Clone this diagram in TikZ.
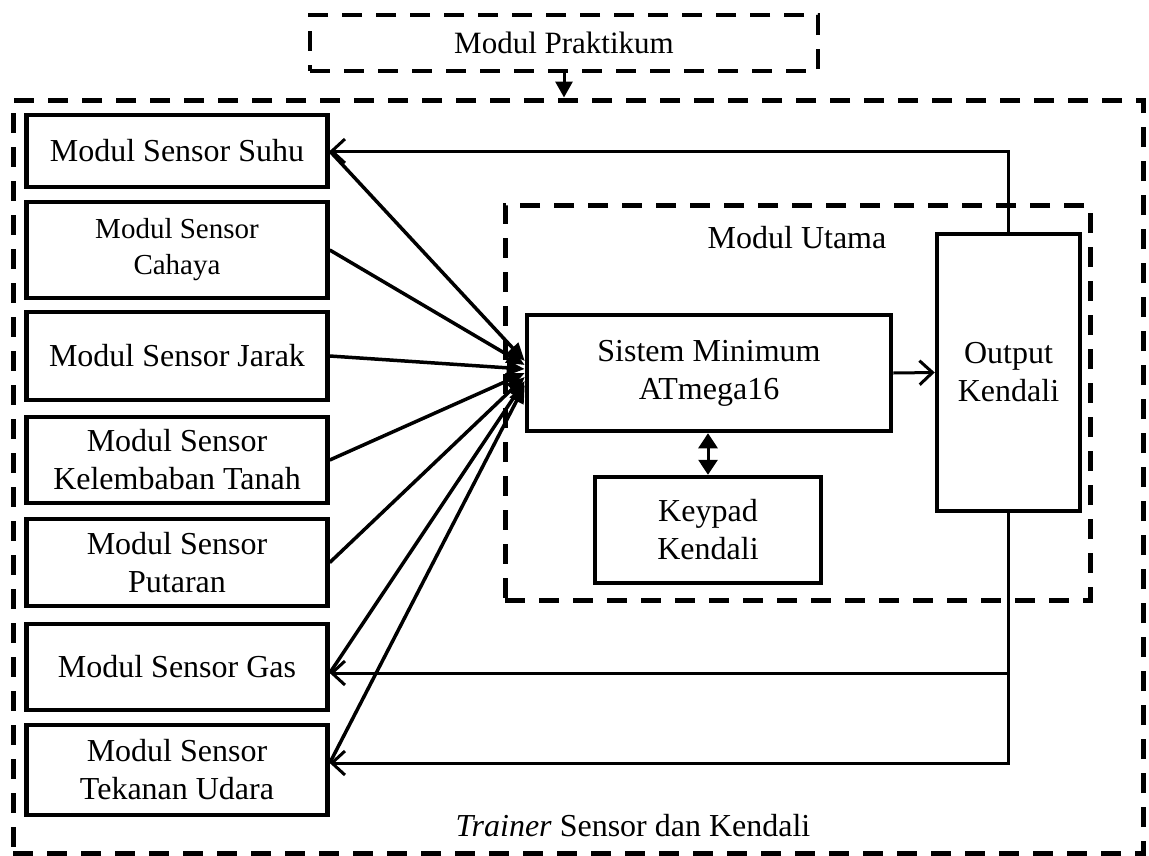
\documentclass[tikz,border=0pt]{standalone}
\usepackage{fontspec}
\setmainfont{Liberation Serif}
\usetikzlibrary{arrows.meta}

\begin{document}
\begin{tikzpicture}[x=1pt, y=-1pt, line width=3pt,
  box/.style={draw, line width=4.5pt, align=center, inner sep=0pt, font=\fontsize{32}{38}\selectfont},
  frame/.style={draw, line width=5pt, dash pattern=on 20pt off 14pt},
  sense/.style={line width=3.5pt, -{Triangle[length=18pt,width=15pt]}},
  ctrl/.style={line width=3pt, -{Straight Barb[length=13pt,width=24pt]}}]

\useasboundingbox (0,0) rectangle (1149,855);

% Outer frame: trainer
\node[frame, minimum width=1130pt, minimum height=753pt] (trainer) at (578,476.5) {};
\node[font=\fontsize{32}{37}\selectfont] (trainerlabel) at (633,826) {\textit{Trainer} Sensor dan Kendali};

% Modul praktikum
\node[frame, line width=4.5pt, minimum width=508pt, minimum height=56pt, font=\fontsize{31}{37}\selectfont] (prak) at (564,43) {Modul Praktikum};
\draw[-{Triangle[length=16pt,width=17pt]}] (prak.south) -- (prak.south |- trainer.north);

% Sensor modules
\node[box, minimum width=301pt, minimum height=72pt] (suhu) at (177,151) {Modul Sensor Suhu};
\node[box, minimum width=301pt, minimum height=96pt, font=\fontsize{29}{36}\selectfont] (cahaya) at (177,250) {Modul Sensor\\Cahaya};
\node[box, minimum width=301pt, minimum height=88pt] (jarak) at (177,356) {Modul Sensor Jarak};
\node[box, minimum width=301pt, minimum height=86pt] (kelem) at (177,460) {Modul Sensor\\Kelembaban Tanah};
\node[box, minimum width=301pt, minimum height=87pt] (putaran) at (177,562.5) {Modul Sensor\\Putaran};
\node[box, minimum width=301pt, minimum height=86pt] (gas) at (177,667) {Modul Sensor Gas};
\node[box, minimum width=301pt, minimum height=90pt] (tekanan) at (177,770) {Modul Sensor\\Tekanan Udara};

% Modul utama
\node[frame, minimum width=585pt, minimum height=395pt] (utama) at (797.5,402.5) {};
\node[font=\fontsize{32}{37}\selectfont] (utamalabel) at (797,238) {Modul Utama};
\node[box, minimum width=364pt, minimum height=116pt] (sistem) at (709,373) {Sistem Minimum\\ATmega16};
\node[box, minimum width=226pt, minimum height=106pt] (keypad) at (708,530) {Keypad\\Kendali};
\node[box, minimum width=143pt, minimum height=277pt] (output) at (1008.5,372.5) {Output\\Kendali};

% Inside links
\draw[{Triangle[length=15pt,width=19pt]}-{Triangle[length=15pt,width=19pt]}] (keypad.north) -- (keypad.north |- sistem.south);
\draw[ctrl] (sistem.east) -- (output.west);

% Sensor inputs
\foreach \s/\a/\b in {suhu/0/12, cahaya/0/8, jarak/0/4, kelem/0/0, putaran/0/-4, gas/-6/-8, tekanan/7/-12}
  \draw[sense] ([yshift=\a pt]\s.east) -- ([yshift=\b pt]sistem.west);

% Control outputs
\draw[ctrl] (output.north) |- (suhu.east);
\draw[ctrl] (output.south) |- ([yshift=-6pt]gas.east);
\draw[ctrl] (output.south) |- ([yshift=7pt]tekanan.east);

\end{tikzpicture}
\end{document}
